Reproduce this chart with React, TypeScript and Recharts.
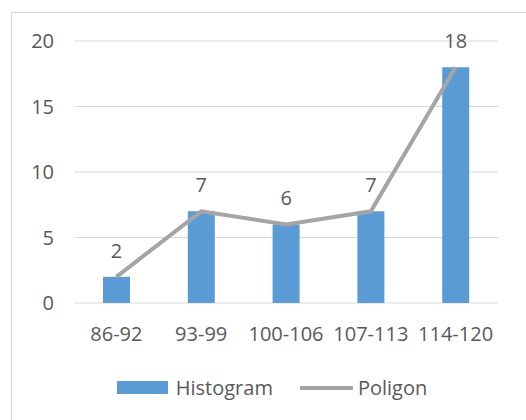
import React from "react";
import {
  ComposedChart,
  Bar,
  Line,
  XAxis,
  YAxis,
  CartesianGrid,
  LabelList,
} from "recharts";

const classes = ["86-92", "93-99", "100-106", "107-113", "114-120"];
const histogram = [2, 7, 6, 7, 18];
const poligon = [2, 7, 6, 7, 18];
const yTicks = [0, 5, 10, 15, 20];

const FONT = "'Open Sans', 'Noto Sans', sans-serif";
const TEXT = "#595959";

const data = classes.map((c, i) => ({
  name: c,
  histogram: histogram[i],
  poligon: poligon[i],
}));

// legend drawn by hand, under the plot like the spreadsheet version
const LegendBox = () => (
  <div
    style={{
      position: "absolute",
      left: 0,
      top: 374,
      width: 526,
      boxSizing: "border-box",
      paddingLeft: 18,
      display: "flex",
      justifyContent: "center",
      alignItems: "center",
      fontFamily: FONT,
      fontSize: 20,
      color: TEXT,
    }}
  >
    <div style={{ display: "flex", alignItems: "center", marginRight: 27 }}>
      <span style={{ width: 51, height: 13, background: "#5B9BD5", marginRight: 8 }} />
      <span>Histogram</span>
    </div>
    <div style={{ display: "flex", alignItems: "center" }}>
      <span style={{ width: 53, height: 4, background: "#A5A5A5", marginRight: 5 }} />
      <span>Poligon</span>
    </div>
  </div>
);

export default function App() {
  return (
    <div
      style={{
        position: "absolute",
        left: 0,
        top: 0,
        width: 526,
        height: 420,
        overflow: "hidden",
        background: "#fff",
      }}
    >
      {/* chart frame, runs off the right and bottom edges */}
      <div
        style={{
          position: "absolute",
          left: 11,
          top: 12,
          width: 600,
          height: 500,
          border: "1px solid #d9d9d9",
        }}
      />
      <div style={{ position: "absolute", left: 0, top: 0 }}>
        <ComposedChart
          width={526}
          height={420}
          data={data}
          margin={{ top: 41, right: 28, left: 0, bottom: 87 }}
        >
          <CartesianGrid vertical={false} stroke="#d9d9d9" />
          <XAxis
            dataKey="name"
            height={30}
            axisLine={false}
            tickLine={false}
            tickSize={0}
            tickMargin={24}
            interval={0}
            tick={{ fill: TEXT, fontSize: 20, fontFamily: FONT }}
          />
          <YAxis
            width={74}
            domain={[0, 20]}
            ticks={yTicks}
            axisLine={false}
            tickLine={false}
            tickSize={0}
            tickMargin={20}
            tick={{ fill: TEXT, fontSize: 20, fontFamily: FONT }}
          />
          <Bar dataKey="histogram" fill="#5B9BD5" barSize={27} isAnimationActive={false}>
            <LabelList
              dataKey="histogram"
              position="top"
              offset={19}
              fill={TEXT}
              fontSize={20}
              fontFamily={FONT}
            />
          </Bar>
          <Line
            dataKey="poligon"
            stroke="#A5A5A5"
            strokeWidth={4}
            dot={false}
            activeDot={false}
            isAnimationActive={false}
          />
        </ComposedChart>
      </div>
      <LegendBox />
    </div>
  );
}
